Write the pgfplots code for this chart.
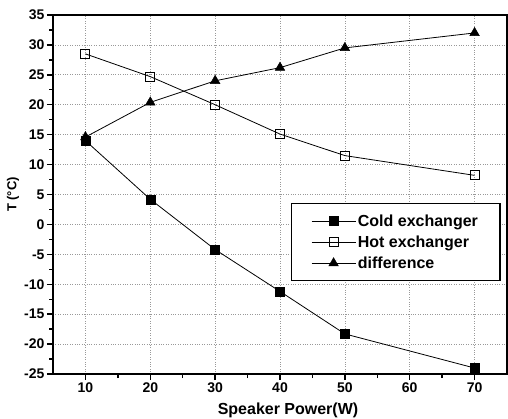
\documentclass[border=0pt]{standalone}
\usepackage{pgfplots}
\pgfplotsset{compat=1.18}
\usepackage{fontspec}
\setmainfont{Liberation Sans}
\begin{document}
\begin{tikzpicture}
\begin{axis}[
  name=main,
  scale only axis,
  width=454pt, height=359pt,
  xmin=5, xmax=75, ymin=-25, ymax=35,
  xtick={10,20,30,40,50,60,70},
  ytick={-25,-20,...,35},
  minor x tick num=1, minor y tick num=1,
  axis line style={line width=1.8pt},
  tick style={black, line width=1.4pt},
  major tick length=6pt, minor tick length=4pt,
  tick pos=left, tick align=outside,
  grid=major,
  major grid style={dotted, gray!80, line width=0.7pt},
  /pgf/number format/assume math mode=true,
  ticklabel style={font=\fontsize{14}{16}\selectfont\bfseries},
  xticklabel style={yshift=1pt},
  yticklabel style={xshift=1pt},
  xlabel={Speaker Power(W)}, ylabel={T (°C)},
  xlabel style={font=\fontsize{16}{18}\selectfont\bfseries, at={(axis description cs:0.5,0)}, anchor=base, yshift=-40pt, xshift=8pt},
  ylabel style={font=\fontsize{13}{15}\selectfont\bfseries, at={(axis description cs:0,0.5)}, anchor=center, yshift=40pt},
  legend cell align=left,
  legend image code/.code={\draw[mark repeat=2,mark phase=2] plot coordinates {(0pt,0pt) (22pt,0pt) (44pt,0pt)};},
  legend style={at={(axis cs:74,3.6)}, anchor=north east, draw=black, line width=1.2pt,
    font=\fontsize{16}{18}\selectfont\bfseries, row sep=4pt, inner xsep=20pt, inner ysep=9pt},
  legend image post style={line width=0.6pt},
]
\addplot[black, line width=0.8pt, mark=square*, mark size=4.5pt, mark options={solid, line width=0.5pt}]
  coordinates {(10,14) (20,4.2) (30,-4.2) (40,-11.2) (50,-18.3) (70,-24)};
\addlegendentry{Cold exchanger}
\addplot[black, line width=0.8pt, mark=square, mark size=4.5pt, mark options={solid, fill=white, line width=1pt}]
  coordinates {(10,28.5) (20,24.7) (30,20) (40,15.1) (50,11.5) (70,8.2)};
\addlegendentry{Hot exchanger}
\addplot[black, line width=0.8pt, mark=triangle*, mark size=5.5pt, mark options={solid, line width=0.5pt}]
  coordinates {(10,14.6) (20,20.4) (30,24) (40,26.2) (50,29.5) (70,32)};
\addlegendentry{difference}
\end{axis}
\pgfresetboundingbox
\path ([shift={(-53pt,-44pt)}]main.south west) rectangle ([shift={(1pt,15pt)}]main.north east);
\end{tikzpicture}
\end{document}
